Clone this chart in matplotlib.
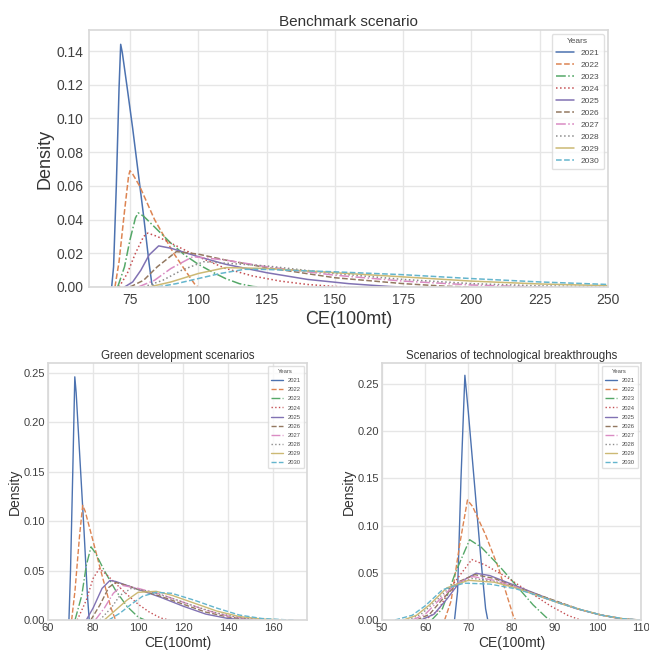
import matplotlib
matplotlib.use("Agg")
import matplotlib.pyplot as plt
import seaborn as sns

sns.set_theme(style="whitegrid")
plt.rcParams['font.family'] = ['Liberation Sans', 'DejaVu Sans']

years = ["2021", "2022", "2023", "2024", "2025", "2026", "2027", "2028", "2029", "2030"]

# ---------------- Benchmark scenario ----------------
B2021_x = [68.3, 69, 70, 71, 71.6, 72.2, 74, 76, 78, 80, 82, 83, 84]
B2021_y = [0, 0.012, 0.06, 0.118, 0.144, 0.139, 0.118, 0.094, 0.068, 0.042, 0.014, 0.002, 0]
B2022_x = [69.5, 71, 73, 74.5, 75, 76, 78.5, 84, 91, 96, 99, 100]
B2022_y = [0, 0.015, 0.045, 0.066, 0.069, 0.067, 0.060, 0.040, 0.020, 0.008, 0.001, 0]
B2023_x = [70.5, 73, 75, 77, 78, 80, 85, 90, 95, 100, 105, 110, 115, 120, 122]
B2023_y = [0, 0.012, 0.028, 0.041, 0.044, 0.042, 0.034, 0.026, 0.019, 0.0135, 0.009, 0.005, 0.002, 0.0003, 0]
B2024_x = [71, 74, 77, 80, 81.5, 85, 90, 100, 110, 120, 130, 140, 150, 155]
B2024_y = [0, 0.008, 0.020, 0.030, 0.032, 0.030, 0.026, 0.018, 0.011, 0.0065, 0.0035, 0.0015, 0.0003, 0]
B2025_x = [73, 76, 79, 82, 85.5, 90, 100, 110, 125, 140, 155, 170, 175]
B2025_y = [0, 0.003, 0.010, 0.019, 0.0244, 0.023, 0.018, 0.0135, 0.0085, 0.0045, 0.002, 0.0003, 0]
B2026_x = [75, 80, 85, 92, 100, 110, 125, 150, 175, 190, 200]
B2026_y = [0, 0.004, 0.012, 0.021, 0.0195, 0.016, 0.0115, 0.0055, 0.002, 0.0005, 0]
B2027_x = [78, 84, 90, 98, 110, 125, 150, 175, 200, 220, 230]
B2027_y = [0, 0.004, 0.011, 0.018, 0.016, 0.012, 0.007, 0.0035, 0.0012, 0.0002, 0]
B2028_x = [80, 87, 94, 102, 125, 150, 175, 200, 225, 250]
B2028_y = [0, 0.004, 0.010, 0.015, 0.0125, 0.008, 0.0045, 0.002, 0.0007, 0.0002]
B2029_x = [82, 90, 100, 110, 125, 150, 175, 200, 225, 250]
B2029_y = [0, 0.003, 0.008, 0.0115, 0.011, 0.0085, 0.006, 0.0035, 0.0018, 0.0008]
B2030_x = [85, 92, 100, 108, 117, 125, 150, 175, 200, 225, 250]
B2030_y = [0, 0.002, 0.005, 0.008, 0.0105, 0.0104, 0.009, 0.0073, 0.005, 0.003, 0.0015]

# ---------------- Green development scenarios ----------------
G2021_x = [69.3, 70, 71, 71.9, 72.5, 74, 76, 77.5, 78.3]
G2021_y = [0, 0.05, 0.15, 0.246, 0.23, 0.17, 0.09, 0.025, 0]
G2022_x = [70.5, 72, 74, 75.4, 76.5, 80, 84, 88, 90]
G2022_y = [0, 0.03, 0.085, 0.116, 0.11, 0.08, 0.045, 0.012, 0]
G2023_x = [72, 75, 77, 79.1, 81, 85, 90, 95, 100, 103]
G2023_y = [0, 0.025, 0.055, 0.074, 0.068, 0.05, 0.03, 0.014, 0.003, 0]
G2024_x = [73, 77, 80, 82.8, 86, 90, 95, 100, 105, 110, 114]
G2024_y = [0, 0.02, 0.042, 0.052, 0.046, 0.037, 0.026, 0.016, 0.008, 0.002, 0]
G2025_x = [77, 80, 84, 87.5, 90, 95, 100, 110, 120, 130, 140, 150]
G2025_y = [0, 0.012, 0.032, 0.040, 0.039, 0.035, 0.031, 0.023, 0.014, 0.006, 0.0015, 0]
G2026_x = [79, 83, 87, 90, 95, 100, 110, 120, 130, 140, 150, 155]
G2026_y = [0, 0.015, 0.033, 0.038, 0.035, 0.031, 0.024, 0.016, 0.008, 0.003, 0.0005, 0]
G2027_x = [81, 85, 89, 93, 100, 110, 120, 130, 140, 150, 158]
G2027_y = [0, 0.012, 0.027, 0.035, 0.032, 0.026, 0.018, 0.010, 0.004, 0.001, 0]
G2028_x = [83, 88, 92, 97, 105, 115, 125, 135, 145, 155, 162]
G2028_y = [0, 0.012, 0.025, 0.032, 0.029, 0.022, 0.014, 0.007, 0.0025, 0.0005, 0]
G2029_x = [85, 90, 95, 100, 108, 115, 125, 135, 145, 155, 165]
G2029_y = [0, 0.010, 0.020, 0.028, 0.029, 0.025, 0.017, 0.009, 0.0035, 0.001, 0]
G2030_x = [87, 92, 97, 102, 108, 115, 125, 135, 145, 155, 165, 170]
G2030_y = [0, 0.007, 0.016, 0.024, 0.028, 0.027, 0.020, 0.012, 0.005, 0.0015, 0.0003, 0]

# ---------------- Technological breakthroughs ----------------
T2021_x = [66.8, 67.5, 68.3, 69.2, 70, 71.5, 73, 74, 74.5]
T2021_y = [0, 0.03, 0.15, 0.259, 0.22, 0.14, 0.06, 0.012, 0]
T2022_x = [64.5, 66, 68, 69.8, 71, 74, 77, 79, 80.5, 81]
T2022_y = [0, 0.02, 0.08, 0.127, 0.12, 0.09, 0.055, 0.025, 0.003, 0]
T2023_x = [61.5, 64, 67, 70.3, 73, 77, 81, 85, 88, 89]
T2023_y = [0, 0.012, 0.05, 0.085, 0.077, 0.058, 0.037, 0.016, 0.003, 0]
T2024_x = [60, 63, 66, 70.8, 74, 79, 84, 89, 93, 96]
T2024_y = [0, 0.01, 0.035, 0.064, 0.058, 0.045, 0.03, 0.015, 0.005, 0]
T2025_x = [59, 62, 65, 68, 71.8, 75, 80, 85, 90, 95, 100, 105, 108]
T2025_y = [0, 0.006, 0.022, 0.040, 0.0495, 0.047, 0.038, 0.029, 0.020, 0.012, 0.006, 0.0015, 0]
T2026_x = [58, 61, 64, 68, 71.5, 76, 81, 86, 91, 96, 101, 106, 109]
T2026_y = [0, 0.006, 0.022, 0.041, 0.048, 0.044, 0.035, 0.027, 0.019, 0.011, 0.005, 0.001, 0]
T2027_x = [57, 60, 63, 67, 71, 76, 81, 86, 91, 96, 101, 106, 110]
T2027_y = [0, 0.006, 0.020, 0.038, 0.046, 0.042, 0.035, 0.026, 0.018, 0.011, 0.005, 0.0012, 0]
T2028_x = [56, 59, 62, 66, 71, 76, 81, 86, 91, 96, 101, 106, 110]
T2028_y = [0, 0.006, 0.018, 0.036, 0.044, 0.041, 0.034, 0.026, 0.018, 0.011, 0.005, 0.0012, 0]
T2029_x = [55, 58, 61, 65, 70, 76, 81, 86, 91, 96, 101, 106, 110]
T2029_y = [0, 0.005, 0.016, 0.034, 0.042, 0.040, 0.034, 0.026, 0.018, 0.011, 0.005, 0.0012, 0]
T2030_x = [53, 57, 60, 64, 69, 75, 81, 86, 91, 96, 101, 106, 110]
T2030_y = [0, 0.005, 0.015, 0.032, 0.039, 0.038, 0.033, 0.026, 0.018, 0.011, 0.005, 0.0013, 0]

bench = [(B2021_x, B2021_y), (B2022_x, B2022_y), (B2023_x, B2023_y), (B2024_x, B2024_y),
         (B2025_x, B2025_y), (B2026_x, B2026_y), (B2027_x, B2027_y), (B2028_x, B2028_y),
         (B2029_x, B2029_y), (B2030_x, B2030_y)]
green = [(G2021_x, G2021_y), (G2022_x, G2022_y), (G2023_x, G2023_y), (G2024_x, G2024_y),
         (G2025_x, G2025_y), (G2026_x, G2026_y), (G2027_x, G2027_y), (G2028_x, G2028_y),
         (G2029_x, G2029_y), (G2030_x, G2030_y)]
tech = [(T2021_x, T2021_y), (T2022_x, T2022_y), (T2023_x, T2023_y), (T2024_x, T2024_y),
        (T2025_x, T2025_y), (T2026_x, T2026_y), (T2027_x, T2027_y), (T2028_x, T2028_y),
        (T2029_x, T2029_y), (T2030_x, T2030_y)]

colors = sns.color_palette("deep", 10)
styles = ['-', '--', '-.', ':']

fig = plt.figure(figsize=(6.49, 6.5), dpi=100)
W, H = 649.0, 650.0

def make_ax(l, r, t, b):
    return fig.add_axes([l / W, 1 - b / H, (r - l) / W, (b - t) / H])

ax_top = make_ax(89, 608, 30, 287)
ax_g = make_ax(48, 307, 363, 620)
ax_t = make_ax(382, 641, 363, 620)

def draw(ax, data, lw, title, tfs, lfs, tickfs, legfs, lspace, xlim, ylim, xticks, yticks,
         tpad, xlpad, ylpad):
    for i, (xs, ys) in enumerate(data):
        ax.plot(xs, ys, color=colors[i], linestyle=styles[i % 4], lw=lw, label=years[i])
    ax.set_xlim(*xlim)
    ax.set_ylim(*ylim)
    ax.set_xticks(xticks)
    ax.set_yticks(yticks)
    ax.set_yticklabels(["{:.2f}".format(v) for v in yticks])
    ax.tick_params(labelsize=tickfs, length=0, pad=tpad, colors='.25')
    ax.set_title(title, fontsize=tfs, pad=3, color='.2')
    ax.set_xlabel("CE(100mt)", fontsize=lfs, labelpad=xlpad, color='.2')
    ax.set_ylabel("Density", fontsize=lfs, labelpad=ylpad, color='.2')
    for s in ax.spines.values():
        s.set_color('.85')
    ax.grid(color='.9', lw=1.0)
    leg = ax.legend(title="Years", fontsize=legfs, title_fontsize=legfs, loc='upper right',
                    frameon=True, handlelength=2.2, labelspacing=lspace, borderpad=0.5)
    leg.get_frame().set_edgecolor('.85')
    for t in leg.get_texts():
        t.set_color('.3')
    leg.get_title().set_color('.3')

draw(ax_top, bench, 1.1, "Benchmark scenario", 11, 13, 10, 6, 0.5,
     (60, 250), (0, 0.1525), [75, 100, 125, 150, 175, 200, 225, 250],
     [0, 0.02, 0.04, 0.06, 0.08, 0.10, 0.12, 0.14], 4, 3, 2)
draw(ax_g, green, 1.0, "Green development scenarios", 8.3, 10, 8, 4.2, 0.7,
     (60, 175), (0, 0.26), [60, 80, 100, 120, 140, 160],
     [0, 0.05, 0.10, 0.15, 0.20, 0.25], 2, 2, 1)
draw(ax_t, tech, 1.0, "Scenarios of technological breakthroughs", 8.3, 10, 8, 4.2, 0.7,
     (50, 110), (0, 0.272), [50, 60, 70, 80, 90, 100, 110],
     [0, 0.05, 0.10, 0.15, 0.20, 0.25], 2, 2, 1)

fig.savefig("out.png", dpi=100)
